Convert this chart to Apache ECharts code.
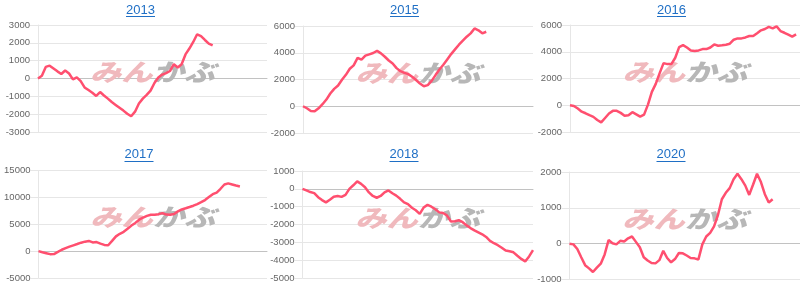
<!DOCTYPE html>
<html><head><meta charset="utf-8">
<script src="https://cdn.jsdelivr.net/npm/echarts@6/dist/echarts.min.js"></script>
<style>html,body{margin:0;padding:0;background:#fff}#c{width:800px;height:286px}</style>
</head><body><div id="c"></div>
<script>
const years = ['2013', '2015', '2016', '2017', '2018', '2020'];
const yMins = [-3000, -2000, -2000, -5000, -5000, -1000];
const yMaxs = [3000, 6000, 6000, 15000, 1000, 2000];
const ySteps = [1000, 2000, 2000, 5000, 1000, 1000];
const slotCount = 60;
const slots = Array.from({length: slotCount}, (_, i) => String(i + 1));

const pnl2013 = [0,150,650,720,560,400,250,450,280,-50,60,-150,-500,-650,-800,-980,-760,-950,-1130,-1320,-1480,-1640,-1800,-1980,-2120,-1860,-1400,-1130,-920,-680,-250,60,220,300,420,800,620,800,1350,1680,2050,2480,2380,2160,1960,1860];
const pnl2015 = [0,-150,-350,-380,-150,150,500,950,1300,1550,1980,2350,2800,3060,3620,3480,3780,3880,3980,4140,3950,3700,3420,3200,2850,2620,2500,2400,2200,1960,1700,1500,1580,1900,2330,2750,3100,3500,3900,4250,4600,4900,5200,5450,5820,5680,5450,5570];
const pnl2016 = [0,-50,-250,-480,-600,-740,-870,-1100,-1280,-950,-620,-420,-420,-570,-780,-750,-520,-680,-850,-700,50,1000,1600,2400,3150,3075,3075,3550,4350,4500,4320,4100,4050,4100,4200,4200,4320,4550,4450,4480,4530,4600,4900,5000,5000,5070,5180,5175,5380,5600,5700,5860,5750,5900,5550,5420,5280,5130,5300];
const pnl2017 = [0,-200,-380,-560,-550,-150,260,550,830,1080,1320,1570,1760,1900,1620,1690,1400,1150,1100,1900,2750,3230,3600,4150,4750,5250,5850,6250,6550,6760,6760,6880,7070,6800,6760,6900,7400,7750,7970,8200,8450,8750,9100,9500,10050,10600,10900,11600,12400,12600,12400,12200,12030];
const pnl2018 = [0,-90,-180,-240,-470,-630,-760,-610,-440,-400,-450,-340,0,200,420,280,90,-200,-400,-500,-400,-200,-90,-250,-380,-560,-760,-860,-1060,-1200,-1400,-1050,-900,-1000,-1150,-1320,-1350,-1500,-1830,-1820,-1760,-1870,-2050,-2200,-2330,-2440,-2550,-2700,-2920,-3050,-3160,-3300,-3460,-3500,-3560,-3750,-3930,-4070,-3790,-3440];
const pnl2020 = [0,-20,-150,-380,-600,-690,-790,-670,-560,-300,100,10,-20,80,60,150,200,50,-100,-380,-470,-540,-550,-460,-200,-400,-520,-430,-260,-270,-330,-400,-410,-440,-20,200,300,480,800,1240,1420,1550,1800,1950,1800,1620,1360,1650,1950,1720,1380,1150,1240];
const series = [pnl2013, pnl2015, pnl2016, pnl2017, pnl2018, pnl2020];

// layout (px)
const grids = [
  {left: 38, top: 25, width: 229, height: 107},
  {left: 303, top: 26, width: 230, height: 107},
  {left: 570, top: 25, width: 230, height: 107},
  {left: 38.5, top: 170.5, width: 228.5, height: 107.5},
  {left: 302.5, top: 171, width: 230.5, height: 107},
  {left: 569.5, top: 172, width: 230.5, height: 107.5}
];
const titleX = [140.5, 404.5, 671.5, 139, 404, 671];
const titleY = [3.5, 3.5, 3.5, 148, 148, 148];
const lineColor = '#ff4f6f';
const blue = '#1f6fc5';

const chart = echarts.init(document.getElementById('c'), null, {renderer: 'canvas'});
const option = {
  animation: false,
  backgroundColor: '#fff',
  title: years.map((y, i) => ({
    text: y, left: titleX[i], top: titleY[i], textAlign: 'center', padding: 0,
    textStyle: {fontSize: 13, fontWeight: 'normal', color: blue, fontFamily: 'Arial, "Liberation Sans", sans-serif'}
  })),
  grid: grids.map(g => Object.assign({containLabel: false}, g)),
  xAxis: years.map((y, i) => ({
    type: 'category', gridIndex: i, data: slots, boundaryGap: false,
    axisLine: {show: true, onZero: true, lineStyle: {color: '#c2c2c2', width: 1}},
    axisTick: {show: false}, axisLabel: {show: false}, splitLine: {show: false}
  })),
  yAxis: years.map((y, i) => ({
    type: 'value', gridIndex: i, min: yMins[i], max: yMaxs[i], interval: ySteps[i],
    axisLine: {show: true, lineStyle: {color: '#e6e6e6'}},
    axisTick: {show: true, length: 8, lineStyle: {color: '#e6e6e6'}},
    axisLabel: {fontSize: 9.5, color: '#666', margin: 8, fontFamily: 'Arial, "Liberation Sans", sans-serif',
      formatter: v => String(v)},
    splitLine: {show: true, lineStyle: {color: '#e6e6e6', width: 1}}
  })),
  series: series.map((d, i) => ({
    type: 'line', xAxisIndex: i, yAxisIndex: i, data: d, showSymbol: false, z: 5,
    lineStyle: {color: lineColor, width: 2.5}, itemStyle: {color: lineColor}
  })),
  graphic: []
};
grids.forEach((g, i) => {
  option.graphic.push({
    type: 'text', z: 1, silent: true,
    x: g.left + g.width / 2, y: g.top + g.height / 2 - 7,
    scaleX: 1.3,
    style: {
      text: '{a|みん}{b|かぶ}', align: 'center', verticalAlign: 'middle',
      rich: {
        a: {fontSize: 24, fontWeight: 900, fontStyle: 'italic', fill: '#f0b9bd', fontFamily: '"Noto Sans CJK JP"'},
        b: {fontSize: 24, fontWeight: 900, fontStyle: 'italic', fill: '#b7b7b7', fontFamily: '"Noto Sans CJK JP"'}
      }
    }
  });
  const uy = i < 3 ? 16.5 : 161.5;
  option.graphic.push({
    type: 'line', silent: true, z: 10,
    shape: {x1: titleX[i] - 14.5, y1: uy, x2: titleX[i] + 14.5, y2: uy},
    style: {stroke: blue, lineWidth: 1}
  });
});
chart.setOption(option);
</script>
</body></html>
